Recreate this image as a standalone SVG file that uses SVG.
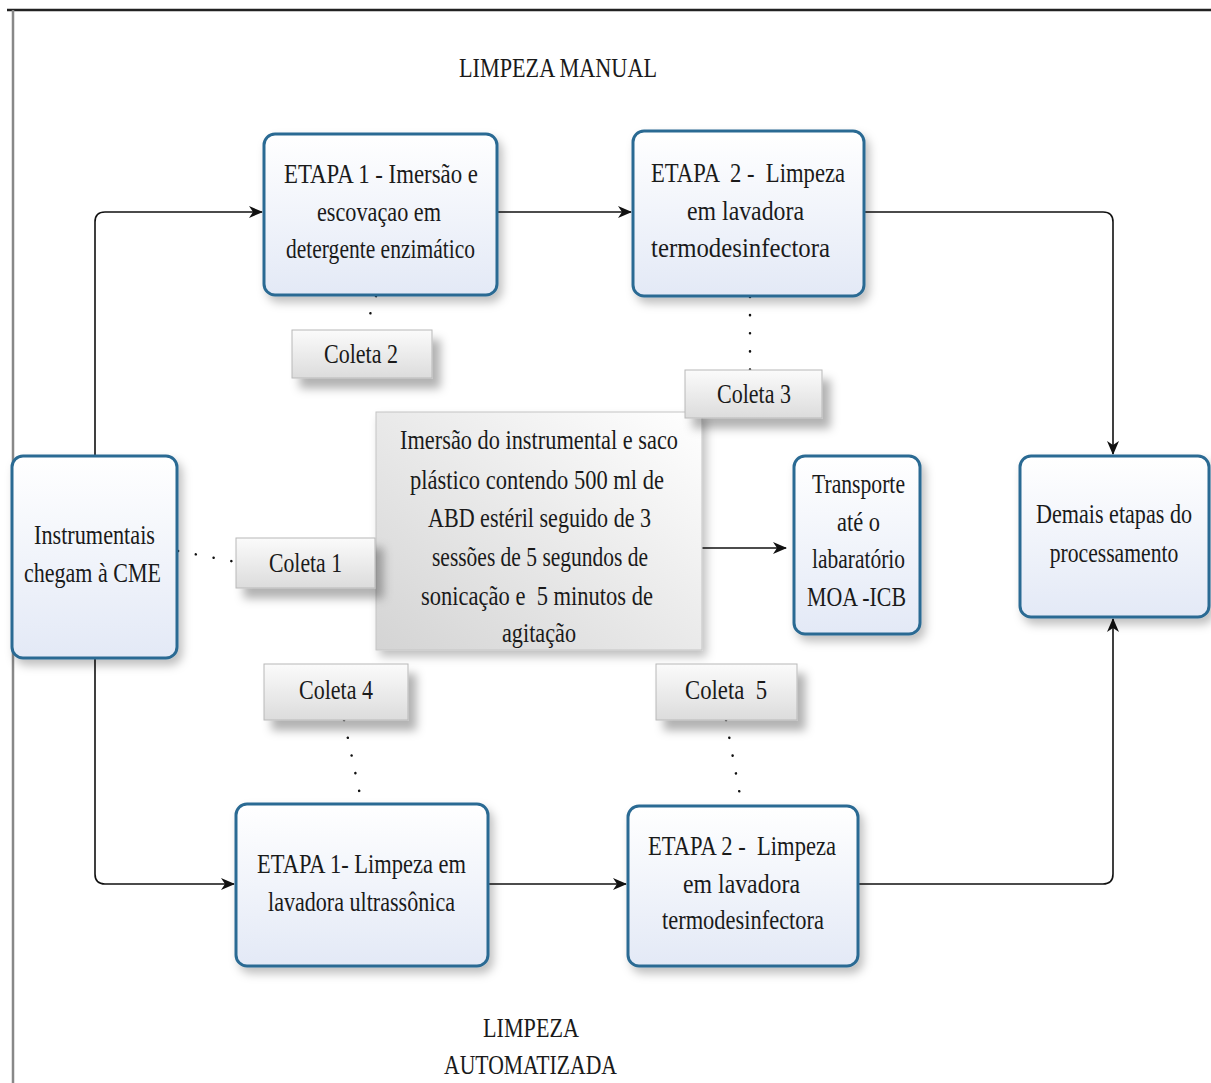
<svg xmlns="http://www.w3.org/2000/svg" width="1211" height="1083" viewBox="0 0 1211 1083">
<style>
.t{font-family:"Liberation Serif","Times New Roman",serif;font-size:27px;fill:#1a1a1a;white-space:pre}
.node{fill:url(#gNode);stroke:#2b6a93;stroke-width:3;filter:url(#sh)}
.col{fill:url(#gCol);stroke:#b8b8b8;stroke-width:1;filter:url(#shC)}
.con{fill:none;stroke:#111;stroke-width:1.6}
.dot{fill:none;stroke:#111;stroke-width:2.5;stroke-linecap:round;stroke-dasharray:0.1 18}
</style>
<defs>
<linearGradient id="gNode" x1="0" y1="0" x2="0" y2="1">
<stop offset="0" stop-color="#ffffff"/>
<stop offset="1" stop-color="#e3e9f6"/>
</linearGradient>
<linearGradient id="gCol" x1="0" y1="0" x2="0" y2="1">
<stop offset="0" stop-color="#fbfbfb"/>
<stop offset="1" stop-color="#dcdcdc"/>
</linearGradient>
<linearGradient id="gCen" x1="0" y1="1" x2="1" y2="0">
<stop offset="0" stop-color="#d4d4d4"/>
<stop offset="1" stop-color="#ffffff"/>
</linearGradient>
<filter id="sh" x="-20%" y="-20%" width="150%" height="150%">
<feDropShadow dx="4" dy="6" stdDeviation="5" flood-color="#000" flood-opacity="0.25"/>
</filter>
<filter id="shC" x="-20%" y="-30%" width="150%" height="200%">
<feDropShadow dx="8" dy="10" stdDeviation="5" flood-color="#000" flood-opacity="0.3"/>
</filter>
<marker id="arr" viewBox="0 0 14 12" refX="13" refY="6" markerWidth="14" markerHeight="12" markerUnits="userSpaceOnUse" orient="auto">
<path d="M0,0 L14,6 L0,12 L4,6 Z" fill="#111"/>
</marker>
</defs>

<rect x="0" y="0" width="1211" height="1083" fill="#ffffff"/>
<g id="frame">
<line x1="7" y1="10" x2="1211" y2="10" stroke="#222" stroke-width="2.5"/>
<line x1="13" y1="10" x2="13" y2="1083" stroke="#888" stroke-width="2.5"/>
</g>

<g id="connectors">
<path class="con" d="M95,456 V222 Q95,212 105,212 H262" marker-end="url(#arr)"/>
<path class="con" d="M497,212 H631" marker-end="url(#arr)"/>
<path class="con" d="M864,212 H1103 Q1113,212 1113,222 V454" marker-end="url(#arr)"/>
<path class="con" d="M95,658 V874 Q95,884 105,884 H234" marker-end="url(#arr)"/>
<path class="con" d="M488,884 H626" marker-end="url(#arr)"/>
<path class="con" d="M858,884 H1103 Q1113,884 1113,874 V619" marker-end="url(#arr)"/>
<path class="con" d="M697,548 H786" marker-end="url(#arr)"/>
<path class="dot" d="M178,551 L236,562"/>
<path class="dot" d="M376,296 L365,330"/>
<path class="dot" d="M750,297 V370"/>
<path class="dot" d="M344,720 L362,804"/>
<path class="dot" d="M726,720 L742,806"/>
</g>

<g id="title-manual"><text class="t" x="459" y="77" textLength="198" lengthAdjust="spacingAndGlyphs">LIMPEZA MANUAL</text></g>
<g id="title-auto">
<text class="t" x="483" y="1037" textLength="96" lengthAdjust="spacingAndGlyphs">LIMPEZA</text>
<text class="t" x="444" y="1074" textLength="173" lengthAdjust="spacingAndGlyphs">AUTOMATIZADA</text>
</g>

<g id="etapa1-manual">
<rect class="node" x="264" y="134" width="233" height="161" rx="11"/>
<text class="t" x="284" y="183" textLength="194" lengthAdjust="spacingAndGlyphs">ETAPA 1 - Imersão e</text>
<text class="t" x="317" y="221" textLength="124" lengthAdjust="spacingAndGlyphs">escovaçao em</text>
<text class="t" x="286" y="258" textLength="189" lengthAdjust="spacingAndGlyphs">detergente enzimático</text>
</g>

<g id="etapa2-manual">
<rect class="node" x="633" y="131" width="231" height="165" rx="11"/>
<text class="t" x="651" y="182" textLength="194" lengthAdjust="spacingAndGlyphs">ETAPA  2 -  Limpeza</text>
<text class="t" x="687" y="220" textLength="117" lengthAdjust="spacingAndGlyphs">em lavadora</text>
<text class="t" x="651" y="257" textLength="179" lengthAdjust="spacingAndGlyphs">termodesinfectora</text>
</g>

<g id="instrumentais">
<rect class="node" x="12" y="456" width="165" height="202" rx="11"/>
<text class="t" x="34" y="544" textLength="121" lengthAdjust="spacingAndGlyphs">Instrumentais</text>
<text class="t" x="24" y="582" textLength="137" lengthAdjust="spacingAndGlyphs">chegam à CME</text>
</g>

<g id="transporte">
<rect class="node" x="794" y="456" width="126" height="178" rx="11"/>
<text class="t" x="812" y="493" textLength="93" lengthAdjust="spacingAndGlyphs">Transporte</text>
<text class="t" x="837" y="531" textLength="43" lengthAdjust="spacingAndGlyphs">até o</text>
<text class="t" x="812" y="568" textLength="93" lengthAdjust="spacingAndGlyphs">labaratório</text>
<text class="t" x="807" y="606" textLength="99" lengthAdjust="spacingAndGlyphs">MOA -ICB</text>
</g>

<g id="demais">
<rect class="node" x="1020" y="456" width="189" height="161" rx="11"/>
<g transform="translate(1114,0) scale(0.78,1)">
<text class="t" x="0" y="523" text-anchor="middle" textLength="200" lengthAdjust="spacingAndGlyphs">Demais etapas do</text>
<text class="t" x="0" y="562" text-anchor="middle" textLength="165" lengthAdjust="spacingAndGlyphs">processamento</text>
</g>
</g>

<g id="etapa1-auto">
<rect class="node" x="236" y="804" width="252" height="162" rx="11"/>
<text class="t" x="257" y="873" textLength="209" lengthAdjust="spacingAndGlyphs">ETAPA 1- Limpeza em</text>
<text class="t" x="268" y="911" textLength="187" lengthAdjust="spacingAndGlyphs">lavadora ultrassônica</text>
</g>

<g id="etapa2-auto">
<rect class="node" x="628" y="806" width="230" height="160" rx="11"/>
<text class="t" x="648" y="855" textLength="188" lengthAdjust="spacingAndGlyphs">ETAPA 2 -  Limpeza</text>
<text class="t" x="683" y="893" textLength="117" lengthAdjust="spacingAndGlyphs">em lavadora</text>
<text class="t" x="662" y="929" textLength="162" lengthAdjust="spacingAndGlyphs">termodesinfectora</text>
</g>

<g id="centro">
<rect x="376" y="412" width="326" height="238" fill="url(#gCen)" stroke="#c4c4c4" stroke-width="1" filter="url(#sh)"/>
<text class="t" x="400" y="449" textLength="278" lengthAdjust="spacingAndGlyphs">Imersão do instrumental e saco</text>
<text class="t" x="410" y="489" textLength="254" lengthAdjust="spacingAndGlyphs">plástico contendo 500 ml de</text>
<text class="t" x="428" y="527" textLength="223" lengthAdjust="spacingAndGlyphs">ABD estéril seguido de 3</text>
<text class="t" x="432" y="566" textLength="216" lengthAdjust="spacingAndGlyphs">sessões de 5 segundos de</text>
<text class="t" x="421" y="605" textLength="232" lengthAdjust="spacingAndGlyphs">sonicação e  5 minutos de</text>
<text class="t" x="502" y="642" textLength="74" lengthAdjust="spacingAndGlyphs">agitação</text>
</g>

<g id="coleta1">
<rect class="col" x="236" y="538" width="139" height="50"/>
<text class="t" x="269" y="572" textLength="73" lengthAdjust="spacingAndGlyphs">Coleta 1</text>
</g>
<g id="coleta2">
<rect class="col" x="292" y="330" width="140" height="48"/>
<text class="t" x="324" y="363" textLength="74" lengthAdjust="spacingAndGlyphs">Coleta 2</text>
</g>
<g id="coleta3">
<rect class="col" x="685" y="370" width="137" height="48"/>
<text class="t" x="717" y="403" textLength="74" lengthAdjust="spacingAndGlyphs">Coleta 3</text>
</g>
<g id="coleta4">
<rect class="col" x="264" y="664" width="144" height="56"/>
<text class="t" x="299" y="699" textLength="74" lengthAdjust="spacingAndGlyphs">Coleta 4</text>
</g>
<g id="coleta5">
<rect class="col" x="656" y="664" width="141" height="56"/>
<text class="t" x="685" y="699" textLength="82" lengthAdjust="spacingAndGlyphs">Coleta  5</text>
</g>
</svg>
